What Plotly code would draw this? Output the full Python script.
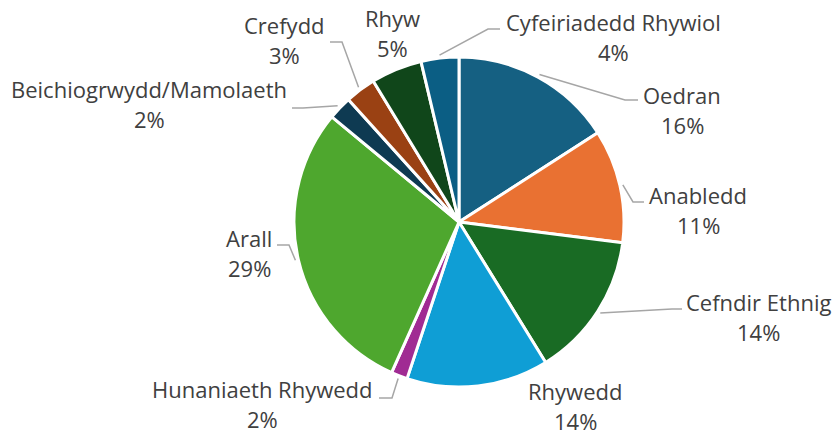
import math
import plotly.graph_objects as go

# ---- data ----
categories = ["Oedran", "Anabledd", "Cefndir Ethnig", "Rhywedd", "Hunaniaeth Rhywedd",
              "Arall", "Beichiogrwydd/Mamolaeth", "Crefydd", "Rhyw", "Cyfeiriadedd Rhywiol"]
values = [15.9, 11.1, 14.2, 13.9, 1.6, 29.3, 2.3, 3.0, 5.0, 3.7]
colors = ["#156082", "#E97132", "#196B24", "#0F9ED5", "#A02B93",
          "#4EA72E", "#0E3A52", "#9A4113", "#10461A", "#0B5E84"]

# ---- layout (pixels) ----
W, H = 835, 435
CX, CY, R = 459, 222, 165
# label centre (x, y of first line), leader elbow & end (None = no leader)
label_pos = [(682, 95), (698, 195), (758, 302), (575, 391), (262, 389),
             (249, 238), (149, 89), (284, 25), (392, 18), (613, 22)]
leaders = [((625, 100), (638, 100)), ((633, 202), (644, 202)), ((672, 309), (682, 309)),
           None, ((392, 398), (379, 398)), ((289, 245), (277, 245)),
           ((303, 108), (292, 108)), ((342, 42), (330, 42)), None, ((488, 29), (500, 29))]
LINE_GAP = 30

def px(x):
    return x / W

def py(y):
    return 1 - y / H

fig = go.Figure(go.Pie(
    labels=categories, values=values, sort=False, direction="clockwise", rotation=0,
    marker=dict(colors=colors, line=dict(color="white", width=3)),
    textinfo="none", showlegend=False,
    domain=dict(x=[px(CX - R), px(CX + R)], y=[py(CY + R), py(CY - R)]),
))

total = sum(values)
annotations = []
shapes = []
cum = 0.0
font = dict(family="Open Sans", size=22, color="#404040")
for cat, v, (lx, ly), ld in zip(categories, values, label_pos, leaders):
    mid = (cum + v / 2) / total * 2 * math.pi
    cum += v
    pct = f"{round(v / total * 100)}%"
    annotations.append(dict(x=px(lx), y=py(ly), xref="paper", yref="paper", text=cat,
                            showarrow=False, font=font, xanchor="center", yanchor="middle"))
    annotations.append(dict(x=px(lx), y=py(ly + LINE_GAP), xref="paper", yref="paper", text=pct,
                            showarrow=False, font=font, xanchor="center", yanchor="middle"))
    if ld is not None:
        sx = CX + (R + 3) * math.sin(mid)
        sy = CY - (R + 3) * math.cos(mid)
        (ex, ey), (fx, fy) = ld
        path = f"M {px(sx)},{py(sy)} L {px(ex)},{py(ey)} L {px(fx)},{py(fy)}"
        shapes.append(dict(type="path", path=path, xref="paper", yref="paper",
                           line=dict(color="#A6A6A6", width=1.5)))

fig.update_layout(
    width=W, height=H, margin=dict(l=0, r=0, t=0, b=0),
    paper_bgcolor="white", plot_bgcolor="white",
    annotations=annotations, shapes=shapes,
)
fig.write_html("out.html", config={"displayModeBar": False},
               post_script="document.body.style.margin='0';document.body.style.overflow='hidden';")
